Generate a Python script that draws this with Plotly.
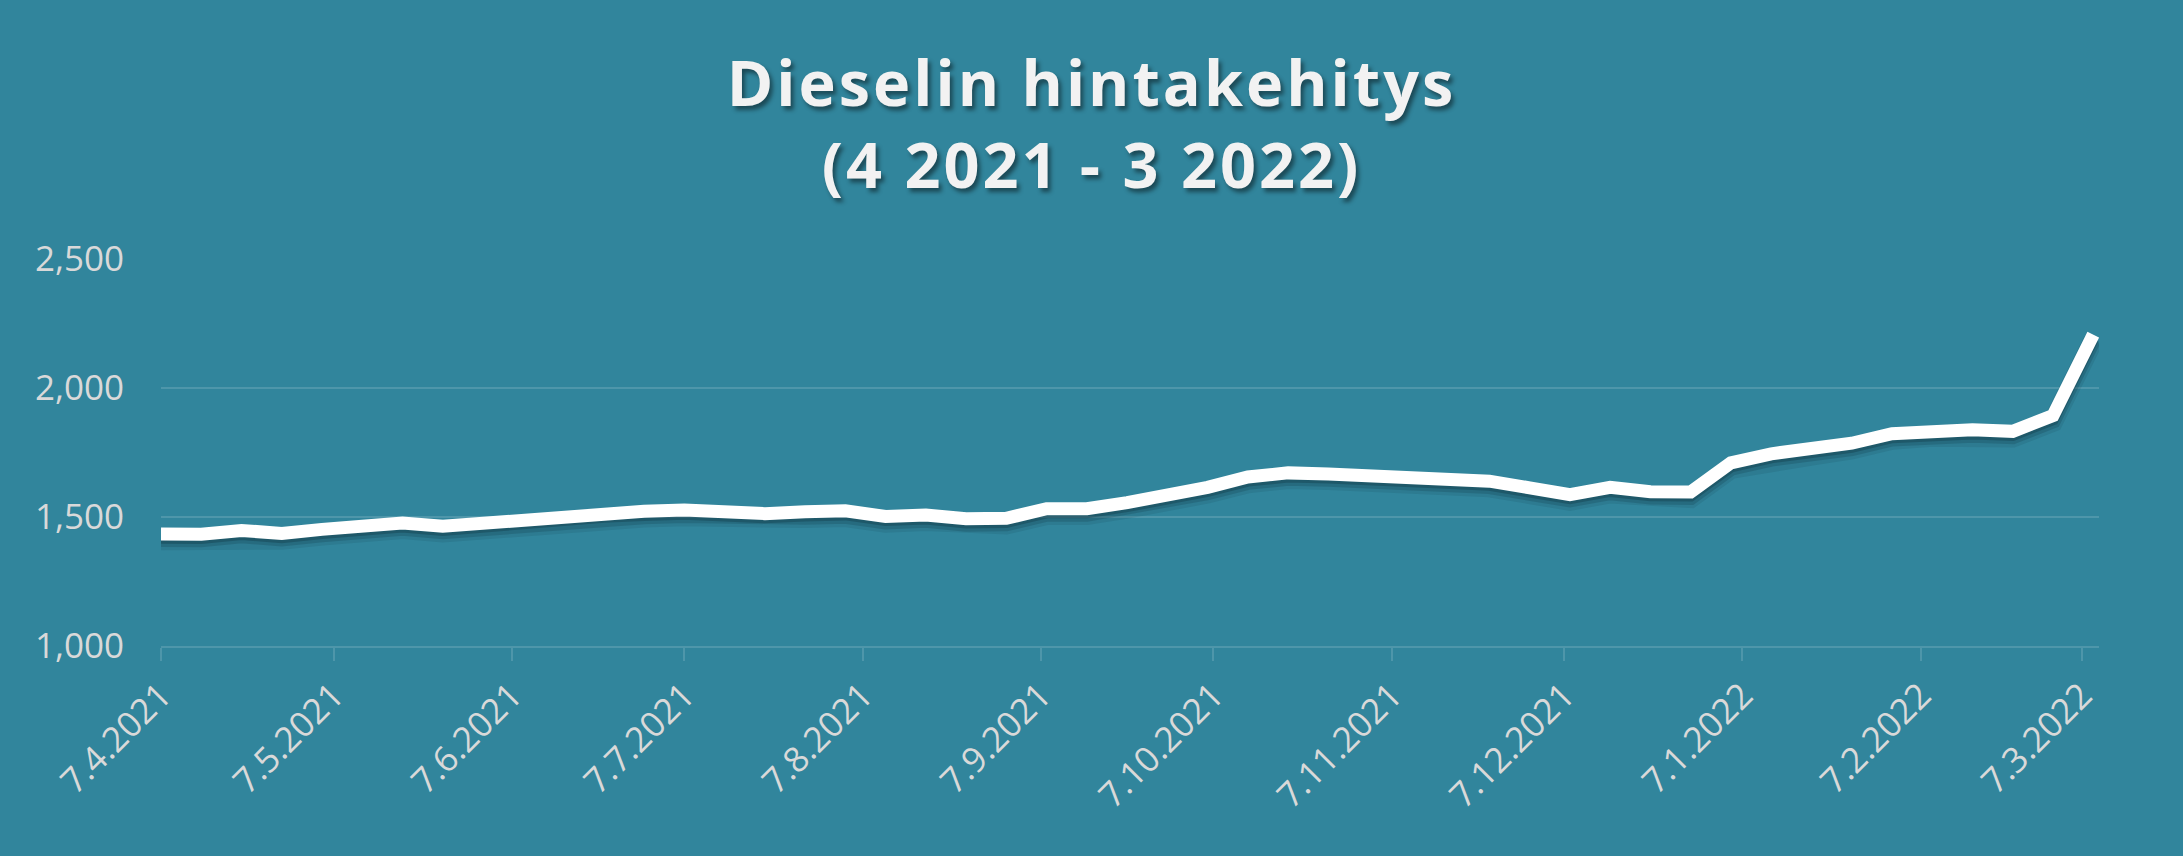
import plotly.graph_objects as go
import pandas as pd

dates = pd.date_range("2021-04-07", periods=49, freq="7D")
prices = [
    1434, 1433, 1448, 1436, 1452, 1468, 1477, 1464, 1478, 1492,
    1506, 1515, 1522, 1527, 1520, 1513, 1520, 1524, 1502, 1508,
    1493, 1495, 1532, 1532, 1556, 1582, 1615, 1655, 1671, 1667,
    1660, 1662, 1652, 1639, 1613, 1587, 1615, 1598, 1597, 1710,
    1745, 1762, 1786, 1823, 1835, 1838, 1832, 1893, 2207,
]

tick_dates = ["2021-04-07", "2021-05-07", "2021-06-07", "2021-07-07", "2021-08-07",
              "2021-09-07", "2021-10-07", "2021-11-07", "2021-12-07", "2022-01-07",
              "2022-02-07", "2022-03-07"]
tick_labels = ["7.4.2021", "7.5.2021", "7.6.2021", "7.7.2021", "7.8.2021", "7.9.2021",
               "7.10.2021", "7.11.2021", "7.12.2021", "7.1.2022", "7.2.2022", "7.3.2022"]
y_ticks = [1000, 1500, 2000, 2500]

title_lines = ["Dieselin hintakehitys", "(4 2021 - 3 2022)"]

BG = "#31859C"
GRID = "rgba(255,255,255,0.14)"
LABEL = "#D9D9D9"
FONT = "Open Sans"

fig = go.Figure()

# soft drop shadow under the line (derived from the same data)
for offset, width, alpha in [(24, 20, 0.10), (19, 16, 0.18), (14, 12, 0.28)]:
    fig.add_trace(go.Scatter(
        x=dates, y=[p - offset for p in prices], mode="lines",
        line=dict(color=f"rgba(10,40,50,{alpha})", width=width),
        hoverinfo="skip", showlegend=False,
    ))

fig.add_trace(go.Scatter(
    x=dates, y=prices, mode="lines",
    line=dict(color="#FFFFFF", width=13),
    showlegend=False, name="Diesel",
))

fig.update_layout(
    width=2183, height=856,
    paper_bgcolor=BG, plot_bgcolor=BG,
    margin=dict(l=161, r=84, t=259, b=210),
    font=dict(family=FONT, color=LABEL),
    title=dict(
        text="<b>" + "<br>".join(title_lines) + "</b>",
        x=0.5, xref="container", xanchor="center",
        y=1 - 106 / 856, yref="container", yanchor="middle",
        font=dict(family=FONT, size=63, color="#F2F2F2",
                  shadow="3px 4px 4px rgba(0,0,0,0.45)"),
    ),
    xaxis=dict(
        type="date",
        range=[dates[0], dates[-1] + pd.Timedelta(days=1)],
        tickvals=tick_dates, ticktext=tick_labels,
        tickangle=-45,
        tickfont=dict(family=FONT, size=35, color=LABEL),
        showgrid=False,
        showline=True, linecolor=GRID, linewidth=2,
        ticks="outside", ticklen=13, tickcolor=GRID, tickwidth=2,
        zeroline=False,
    ),
    yaxis=dict(
        range=[1000, 2500],
        tickvals=y_ticks,
        tickformat=",d",
        tickfont=dict(family=FONT, size=35, color=LABEL),
        showgrid=True, gridcolor=GRID, gridwidth=2,
        zeroline=False, showline=False,
        ticklabelstandoff=36,
    ),
)

post = (
    "document.body.style.margin='0';"
    "document.body.style.overflow='hidden';"
    "document.body.style.background='" + BG + "';"
    "document.querySelectorAll('.gtitle').forEach(function(t){t.style.letterSpacing='3px';});"
)

fig.write_html("out.html", post_script=post, config={"displayModeBar": False})
